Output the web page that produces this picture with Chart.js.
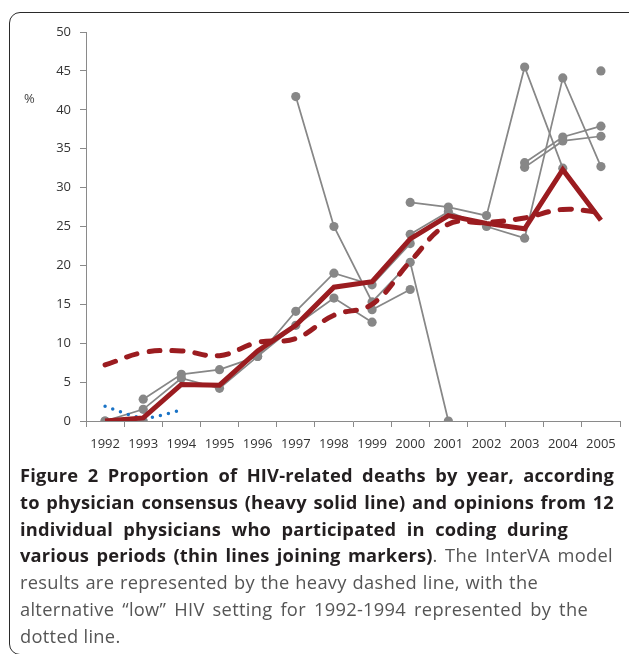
<!DOCTYPE html>
<html>
<head>
<meta charset="utf-8">
<script src="https://cdn.jsdelivr.net/npm/chart.js@4"></script>
<style>
  html, body { margin: 0; padding: 0; background: #fff; }
  body { width: 629px; height: 654px; overflow: hidden; position: relative; font-family: "Open Sans", sans-serif; }
  .frame { position: absolute; left: 9px; top: 12px; width: 700px; height: 643px; border: 1.5px solid #2a2a2a; border-radius: 11px; box-sizing: border-box; }
  .wrap { position: absolute; left: 0; top: 0; width: 629px; height: 465px; }
  .pct { position: absolute; left: 24px; top: 89px; font-size: 13px; color: #444; }
  .cap { position: absolute; left: 20px; top: 462px; white-space: nowrap; font-size: 18.3px; letter-spacing: 0.3px; line-height: 26.8px; color: #555; }
  .cap div { text-align: justify; text-align-last: justify; }
  .cap div.last { text-align-last: left; }
  .cap b { color: #231f20; font-size: 18.3px; letter-spacing: 0.2px; font-weight: 700; }
</style>
</head>
<body>
<div class="frame"></div>
<div class="wrap"><canvas id="hivChart"></canvas></div>
<div class="pct">%</div>
<div class="cap">
  <div style="width:594px"><b>Figure 2 Proportion of HIV-related deaths by year, according</b></div>
  <div style="width:594px"><b>to physician consensus (heavy solid line) and opinions from 12</b></div>
  <div style="width:548px"><b>individual physicians who participated in coding during</b></div>
  <div style="width:593px"><b>various periods (thin lines joining markers)</b>. The InterVA model</div>
  <div style="width:518px">results are represented by the heavy dashed line, with the</div>
  <div style="width:568px">alternative “low” HIV setting for 1992-1994 represented by the</div>
  <div class="last">dotted line.</div>
</div>
<script>
    const years = ["1992", "1993", "1994", "1995", "1996", "1997", "1998", "1999", "2000", "2001", "2002", "2003", "2004", "2005"];
    const yTicks = [0, 5, 10, 15, 20, 25, 30, 35, 40, 45, 50];

    // heavy lines
    const consensus = [0, 0.4, 4.7, 4.6, 9.0, 12.3, 17.2, 17.9, 23.4, 26.4, 25.4, 24.7, 32.3, 25.8];
    const interVA = [7.2, 8.8, 9.0, 8.4, 10.1, 10.6, 13.6, 15.0, 20.5, 25.3, 25.5, 26.1, 27.2, 26.8];
    const interVALow = [1.9, 0.4, 1.4, null, null, null, null, null, null, null, null, null, null, null];

    // individual physicians (null = did not code that year)
    const phys1 = [0, 1.5, 5.5, 4.2, 8.3, 12.3, 15.8, 12.7, null, null, null, null, null, null];
    const phys2 = [null, 2.8, 6.0, 6.6, 8.3, 14.1, 19.0, 17.5, 22.8, null, null, null, null, null];
    const phys3 = [0, 0, null, null, null, null, null, null, null, null, null, null, null, null];
    const phys4 = [null, null, null, null, null, 41.7, 25.0, 15.3, 20.4, 0, null, null, null, null];
    const phys5 = [null, null, null, null, null, null, null, 14.3, 16.9, null, null, null, null, null];
    const phys6 = [null, null, null, null, null, null, null, null, 28.1, 27.5, 26.4, 45.5, 32.5, null];
    const phys7 = [null, null, null, null, null, null, null, null, 24.0, 26.9, 25.0, 23.5, 44.1, 32.7];
    const phys8 = [null, null, null, null, null, null, null, null, null, null, null, 33.2, 36.5, 37.9];
    const phys9 = [null, null, null, null, null, null, null, null, null, null, null, 32.6, 36.0, 36.6];
    const phys10 = [null, null, null, null, null, null, null, null, null, null, null, null, null, 45.0];
    const physicians = [phys1, phys2, phys3, phys4, phys5, phys6, phys7, phys8, phys9, phys10];

    const red = "#9b1c20";
    const gray = "#878787";
    const blue = "#1a73c6";
    const tickFont = { family: "Open Sans", size: 13 };

    const grayLines = physicians.map((data, i) => ({
        data,
        borderColor: gray,
        backgroundColor: gray,
        borderWidth: 1.75,
        pointRadius: 4.6,
        pointBorderWidth: 0,
        pointBackgroundColor: gray,
        spanGaps: false,
        order: 3 + i
    }));

    new Chart(document.getElementById("hivChart"), {
        type: "line",
        data: {
            labels: years,
            datasets: [
                {
                    data: consensus,
                    borderColor: red,
                    borderWidth: 5,
                    pointRadius: 0,
                    borderJoinStyle: "miter",
                    order: 0
                },
                {
                    data: interVA,
                    borderColor: red,
                    borderWidth: 5,
                    borderDash: [11, 12],
                    borderCapStyle: "round",
                    pointRadius: 0,
                    tension: 0.4,
                    order: 1
                },
                {
                    data: interVALow,
                    borderColor: blue,
                    borderWidth: 3.5,
                    borderDash: [0, 8.2],
                    borderCapStyle: "round",
                    pointRadius: 0,
                    tension: 0.3,
                    order: 2
                },
                ...grayLines
            ]
        },
        options: {
            responsive: true,
            maintainAspectRatio: false,
            devicePixelRatio: 1,
            animation: false,
            layout: { padding: { top: 32, right: 9, left: 0, bottom: 0 } },
            plugins: {
                legend: { display: false },
                tooltip: { enabled: false }
            },
            scales: {
                x: {
                    offset: true,
                    grid: { offset: true, drawOnChartArea: false, drawTicks: true, tickLength: 6, color: "#8a8a8a" },
                    border: { display: true, color: "#8a8a8a" },
                    ticks: { color: "#333", font: tickFont, padding: 9, maxRotation: 0, autoSkip: false },
                    afterFit: (scale) => { scale.height = 465 - 421; }
                },
                y: {
                    min: 0,
                    max: 50,
                    afterBuildTicks: (scale) => { scale.ticks = yTicks.map((v) => ({ value: v })); },
                    grid: { drawOnChartArea: false, drawTicks: true, tickLength: 6, color: "#8a8a8a" },
                    border: { display: true, color: "#8a8a8a" },
                    ticks: { color: "#333", font: tickFont, padding: 9 },
                    afterFit: (scale) => { scale.width = 86; }
                }
            }
        }
    });
</script>
</body>
</html>
